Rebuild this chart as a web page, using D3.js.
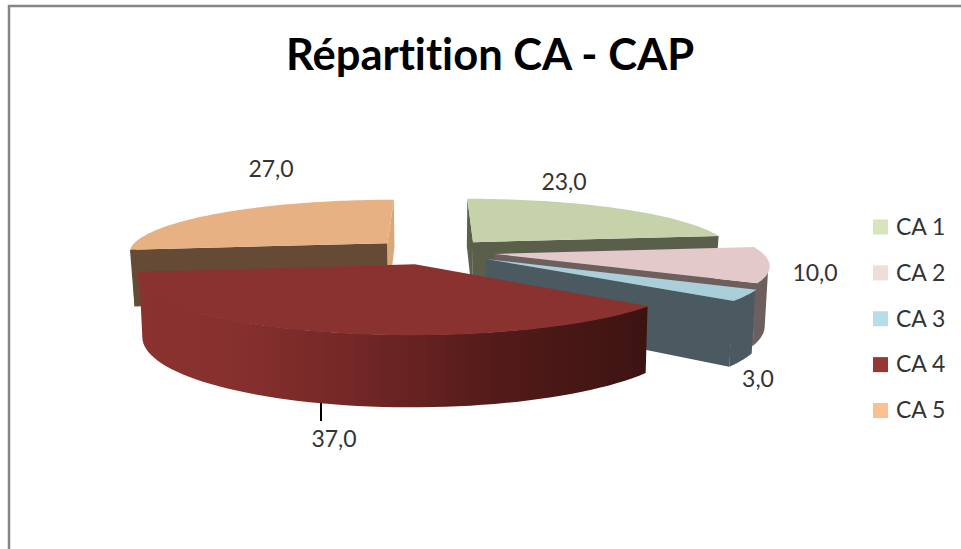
<!DOCTYPE html>
<html>
<head>
<meta charset="utf-8" />
<title>Répartition CA - CAP</title>
<script src="https://cdnjs.cloudflare.com/ajax/libs/d3/7.8.5/d3.min.js"></script>
<style>
html, body { margin: 0; padding: 0; background: #fff; }
svg { display: block; }
text { font-family: Lato, "Open Sans", sans-serif; fill: #333; font-variant-ligatures: none; }
</style>
</head>
<body>
<svg id="chart" width="961" height="549"></svg>
<script>
// data
const categories = ["CA 1", "CA 2", "CA 3", "CA 4", "CA 5"];
const values = [23, 10, 3, 37, 27];
const valueLabels = ["23,0", "10,0", "3,0", "37,0", "27,0"];

// colours
const legendColors = ["#d7e4bc", "#f2dcdb", "#b7dee8", "#953735", "#fac090"];
const topColors = ["#c6d2a9", "#e3c9c9", "#a9cfdb", "#8a3230", "#e8b183"];
const startFaceColors = ["#5c6149", "#6c5f5d", "#4a5a60", "#6a2422", "#654a35"];
const endFaceColors = ["#5a5f4b", "#6c5f5d", "#4a5a60", "#6a2422", "#d8a878"];
const wallColors = ["#5c6149", "#6c5f5d", "#4a5a60", "url(#wall4)", "#654a35"];

// where the value labels sit (centre of text)
const labelX = [564, 815, 758, 334, 271];
const labelY = [184, 275, 381, 441, 171];

const svg = d3.select("#chart");
const width = 961, height = 549;

// projection of the tilted pie: u,v in pie radii, z 0 = top face, 1 = bottom
const explode = 0.24, perspective = 0.17, depth = 57, narrowing = 0.015;
// slices on the right come out a bit wider in the picture
const radiusFactor = [1.005, 1.025, 1.04, 1.005, 1];
const xScale = d3.scaleLinear().domain([-1, 1]).range([433 - 260, 433 + 260]);
const yScale = d3.scaleLinear().domain([-1, 1]).range([251.5 + 53.5, 251.5 - 53.5]);

function project(u, v, z) {
	const s = 1 / (1 + perspective * v);
	return [xScale(u * s * (1 - narrowing * z)), yScale(v * s) + depth * s * z];
}

// chart frame
svg.append("path")
	.attr("d", `M9,${height}V6H${width}`)
	.attr("fill", "none")
	.attr("stroke", "#868686")
	.attr("stroke-width", 2.5);

// title
svg.append("text")
	.attr("x", 490)
	.attr("y", 70)
	.attr("text-anchor", "middle")
	.attr("font-size", 43.5)
	.attr("font-weight", 700)
	.style("fill", "#000")
	.text("Répartition CA - CAP");

// gradient for the curved wall of the big slice
const grad = svg.append("defs").append("linearGradient")
	.attr("id", "wall4")
	.attr("gradientUnits", "userSpaceOnUse")
	.attr("x1", 139).attr("x2", 650).attr("y1", 0).attr("y2", 0);
grad.append("stop").attr("offset", "0").attr("stop-color", "#8a3230");
grad.append("stop").attr("offset", "0.2").attr("stop-color", "#86302e");
grad.append("stop").attr("offset", "0.45").attr("stop-color", "#702625");
grad.append("stop").attr("offset", "0.7").attr("stop-color", "#521b19");
grad.append("stop").attr("offset", "1").attr("stop-color", "#3c1311");

const pie = d3.pie().sort(null).value(d => d);
const arcs = pie(values);
const line = d3.line().curve(d3.curveLinearClosed);

// painter's order: back slices first, the big front slice last
const drawOrder = [4, 0, 1, 2, 3];
const pieGroup = svg.append("g");

drawOrder.forEach(i => {
	const a = arcs[i];
	const mid = (a.startAngle + a.endAngle) / 2;
	const ou = explode * Math.sin(mid), ov = explode * Math.cos(mid);
	const r = radiusFactor[i];
	const rim = (t, z) => project(ou + r * Math.sin(t), ov + r * Math.cos(t), z);
	const apex = z => project(ou, ov, z);
	const g = pieGroup.append("g");

	// curved outer wall: only the part of the rim facing the viewer, one strip per rim step
	const w0 = Math.max(a.startAngle, Math.PI / 2), w1 = Math.min(a.endAngle, 3 * Math.PI / 2);
	if (w1 > w0) {
		const ts = d3.range(0, 61).map(k => w0 + (w1 - w0) * k / 60);
		// top edge runs a hair under the top face so no seam shows
		const upper = ts.map(t => project(ou + 0.995 * r * Math.sin(t), ov + 0.995 * r * Math.cos(t), 0));
		const lower = ts.map(t => rim(t, 1));
		// all strips wound the same way, otherwise overlapping ones cancel in the fill
		const strips = d3.range(0, 60).map(k => {
			const q = [upper[k], upper[k + 1], lower[k + 1], lower[k]];
			return line(d3.polygonArea(q) < 0 ? q.reverse() : q);
		});
		g.append("path").attr("d", strips.join("")).attr("fill", wallColors[i]);
	}

	// radial cut faces, drawn only when they turn towards the viewer
	const startFace = [apex(0), rim(a.startAngle, 0), rim(a.startAngle, 1), apex(1)];
	const endFace = [apex(0), rim(a.endAngle, 0), rim(a.endAngle, 1), apex(1)];
	if (d3.polygonArea(startFace) > 0) g.append("path").attr("d", line(startFace)).attr("fill", startFaceColors[i]);
	if (d3.polygonArea(endFace) < 0) g.append("path").attr("d", line(endFace)).attr("fill", endFaceColors[i]);

	// top face
	const n = Math.ceil((a.endAngle - a.startAngle) * 40);
	const top = [apex(0)].concat(d3.range(0, n + 1).map(k => rim(a.startAngle + (a.endAngle - a.startAngle) * k / n, 0)));
	g.append("path").attr("d", line(top)).attr("fill", topColors[i]);
});

// value labels
svg.selectAll(".value")
	.data(valueLabels)
	.join("text")
	.attr("class", "value")
	.attr("x", (d, i) => labelX[i])
	.attr("y", (d, i) => labelY[i])
	.attr("text-anchor", "middle")
	.attr("dominant-baseline", "middle")
	.attr("font-size", 23)
	.text(d => d);

// leader line of the 37,0 label
svg.append("line")
	.attr("x1", 321).attr("x2", 321)
	.attr("y1", 403).attr("y2", 421)
	.attr("stroke", "#000")
	.attr("stroke-width", 2);

// legend
const legendY = d3.scalePoint().domain(categories).range([227, 410.5]);
const legend = svg.selectAll(".legend")
	.data(categories)
	.join("g")
	.attr("class", "legend")
	.attr("transform", d => `translate(873,${legendY(d)})`);
legend.append("rect")
	.attr("x", 0).attr("y", -7.5)
	.attr("width", 15).attr("height", 15)
	.attr("fill", (d, i) => legendColors[i]);
legend.append("text")
	.attr("x", 23)
	.attr("y", 2)
	.attr("dominant-baseline", "middle")
	.attr("font-size", 23)
	.text(d => d);
</script>
</body>
</html>
